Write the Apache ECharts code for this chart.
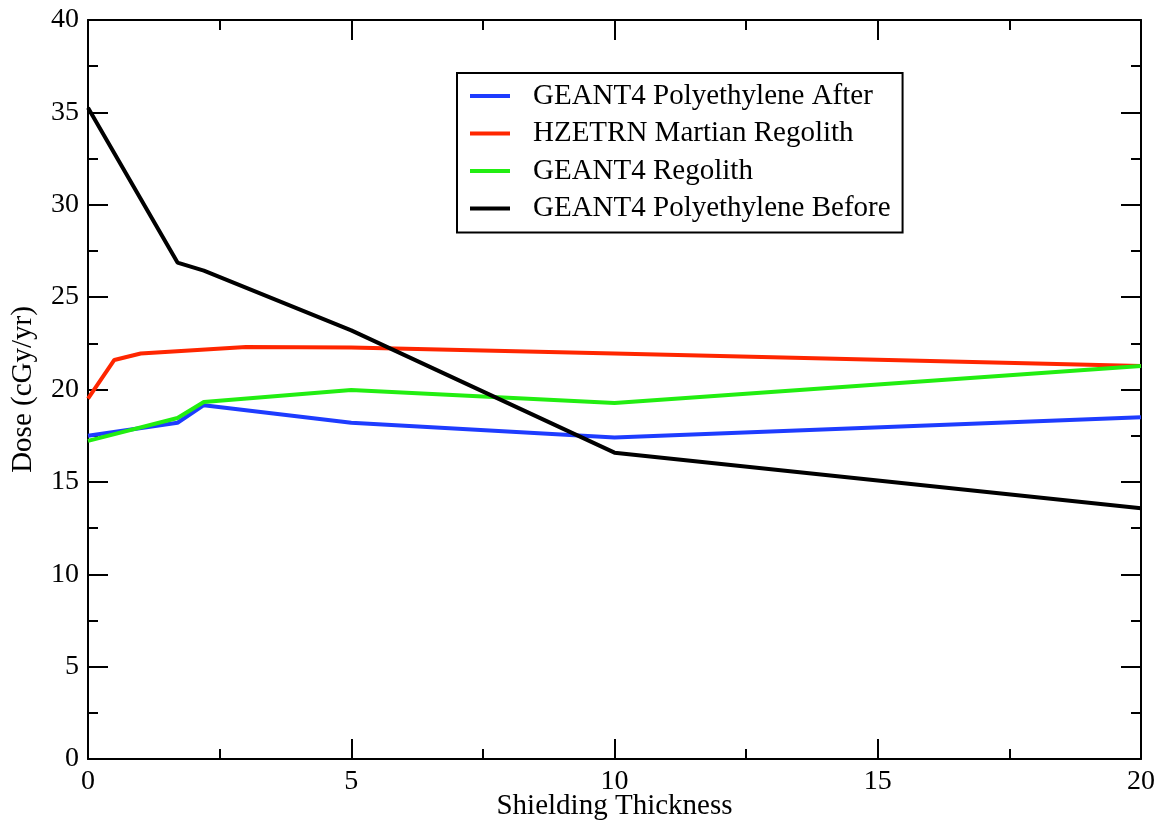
<!DOCTYPE html>
<html>
<head>
<meta charset="utf-8">
<script src="https://cdn.jsdelivr.net/npm/echarts@6/dist/echarts.min.js"></script>
<style>html,body{margin:0;padding:0;background:#fff}#c{width:1168px;height:829px}</style>
</head>
<body>
<div id="c"></div>
<script>
var seriesNames = ['GEANT4 Polyethylene After', 'HZETRN Martian Regolith', 'GEANT4 Regolith', 'GEANT4 Polyethylene Before'];
var polyAfterX = [0, 1.7, 2.2, 5, 10, 20];
var polyAfterY = [17.5, 18.2, 19.15, 18.2, 17.4, 18.5];
var hzetrnX = [0, 0.5, 1, 3, 5, 10, 20];
var hzetrnY = [19.5, 21.6, 21.95, 22.3, 22.28, 21.95, 21.27];
var regolithX = [0, 1.7, 2.2, 5, 10, 20];
var regolithY = [17.22, 18.46, 19.32, 19.97, 19.27, 21.27];
var polyBeforeX = [0, 1.7, 2.2, 5, 10, 20];
var polyBeforeY = [35.25, 26.87, 26.43, 23.2, 16.58, 13.57];
var xTicks = [0, 5, 10, 15, 20];
var yTicks = [0, 5, 10, 15, 20, 25, 30, 35, 40];

function pairs(xs, ys) { return xs.map(function (x, i) { return [x, ys[i]]; }); }
var colors = ['#1e3cff', '#ff2600', '#22ee11', '#000000'];
var allData = [pairs(polyAfterX, polyAfterY), pairs(hzetrnX, hzetrnY), pairs(regolithX, regolithY), pairs(polyBeforeX, polyBeforeY)];

var font = 'Liberation Serif';
function axisBase(show) {
  return {
    axisLine: { show: true, onZero: false, lineStyle: { color: '#000', width: 2 } },
    axisTick: { show: true, inside: true, length: 20, lineStyle: { color: '#000', width: 2 } },
    minorTick: { show: true, splitNumber: 2, length: 10, lineStyle: { color: '#000', width: 2 } },
    splitLine: { show: false },
    axisLabel: { show: show, color: '#000', fontFamily: font, fontSize: 28, margin: 9 }
  };
}
var xb = axisBase(true), xt = axisBase(false), yl = axisBase(true), yr = axisBase(false);
var chart = echarts.init(document.getElementById('c'));
chart.setOption({
  animation: false,
  backgroundColor: '#fff',
  grid: { left: 88, right: 27, top: 20, bottom: 70, containLabel: false, outerBoundsMode: 'none' },
  legend: {
    orient: 'vertical', left: 457, top: 73,
    data: seriesNames,
    borderColor: '#000', borderWidth: 2, padding: [8.5, 12, 9.5, 13],
    itemWidth: 40, itemHeight: 4, itemGap: 8.5, icon: 'rect',
    textStyle: { fontFamily: font, fontSize: 29, color: '#000', lineHeight: 29, padding: [0, 0, 0, 18] }
  },
  xAxis: [
    Object.assign({ type: 'value', position: 'bottom', min: 0, max: 20, interval: 5,
      name: 'Shielding Thickness', nameLocation: 'middle', nameGap: 33, nameMoveOverlap: false,
      nameTextStyle: { fontFamily: font, fontSize: 29, color: '#000', verticalAlign: 'top' } }, xb),
    Object.assign({ type: 'value', position: 'top', min: 0, max: 20, interval: 5 }, xt)
  ],
  yAxis: [
    Object.assign({ type: 'value', position: 'left', min: 0, max: 40, interval: 5,
      name: 'Dose (cGy/yr)', nameLocation: 'middle', nameGap: 50, nameRotate: 90, nameMoveOverlap: false,
      nameTextStyle: { fontFamily: font, fontSize: 29, color: '#000' } }, yl),
    Object.assign({ type: 'value', position: 'right', min: 0, max: 40, interval: 5 }, yr)
  ],
  series: seriesNames.map(function (n, i) {
    return { name: n, type: 'line', data: allData[i], showSymbol: false, symbol: 'none',
      color: colors[i], lineStyle: { width: 4, color: colors[i] }, z: 2 + i };
  })
});
</script>
</body>
</html>
